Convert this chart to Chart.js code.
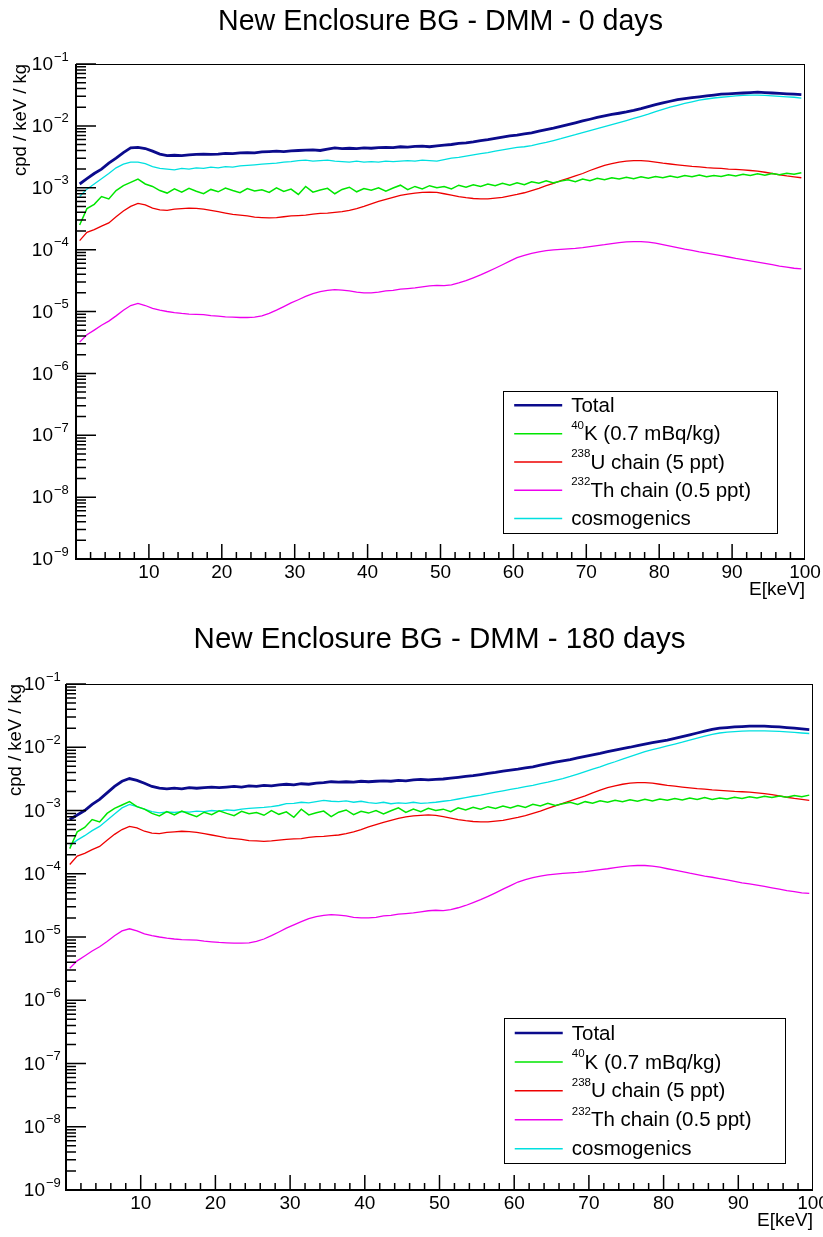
<!DOCTYPE html>
<html>
<head>
<meta charset="utf-8">
<script src="https://cdn.jsdelivr.net/npm/chart.js@4.4.0/dist/chart.umd.min.js"></script>
<style>
body { margin: 0; background: #fff; }
canvas { display: block; }
</style>
</head>
<body>
<canvas id="chart0" width="823" height="618"></canvas>
<canvas id="chart180" width="823" height="619"></canvas>
<script>
// bin centres (keV), 1 keV bins
const energyBins = [
  0.5, 1.5, 2.5, 3.5, 4.5, 5.5, 6.5, 7.5, 8.5, 9.5,
  10.5, 11.5, 12.5, 13.5, 14.5, 15.5, 16.5, 17.5, 18.5, 19.5,
  20.5, 21.5, 22.5, 23.5, 24.5, 25.5, 26.5, 27.5, 28.5, 29.5,
  30.5, 31.5, 32.5, 33.5, 34.5, 35.5, 36.5, 37.5, 38.5, 39.5,
  40.5, 41.5, 42.5, 43.5, 44.5, 45.5, 46.5, 47.5, 48.5, 49.5,
  50.5, 51.5, 52.5, 53.5, 54.5, 55.5, 56.5, 57.5, 58.5, 59.5,
  60.5, 61.5, 62.5, 63.5, 64.5, 65.5, 66.5, 67.5, 68.5, 69.5,
  70.5, 71.5, 72.5, 73.5, 74.5, 75.5, 76.5, 77.5, 78.5, 79.5,
  80.5, 81.5, 82.5, 83.5, 84.5, 85.5, 86.5, 87.5, 88.5, 89.5,
  90.5, 91.5, 92.5, 93.5, 94.5, 95.5, 96.5, 97.5, 98.5, 99.5
];

// cpd / keV / kg
const total0d = [
  1.15e-3, 1.4e-3, 1.7e-3, 2.0e-3, 2.5e-3, 3.0e-3, 3.7e-3, 4.4e-3, 4.5e-3, 4.3e-3,
  3.9e-3, 3.5e-3, 3.3e-3, 3.35e-3, 3.3e-3, 3.4e-3, 3.45e-3, 3.5e-3, 3.45e-3, 3.5e-3,
  3.6e-3, 3.55e-3, 3.65e-3, 3.7e-3, 3.65e-3, 3.8e-3, 3.85e-3, 3.9e-3, 3.85e-3, 3.95e-3,
  4.0e-3, 4.05e-3, 4.1e-3, 4.0e-3, 4.2e-3, 4.4e-3, 4.3e-3, 4.35e-3, 4.3e-3, 4.4e-3,
  4.35e-3, 4.45e-3, 4.5e-3, 4.45e-3, 4.6e-3, 4.55e-3, 4.65e-3, 4.7e-3, 4.6e-3, 4.75e-3,
  4.9e-3, 5.0e-3, 5.2e-3, 5.3e-3, 5.5e-3, 5.8e-3, 6.0e-3, 6.3e-3, 6.6e-3, 6.9e-3,
  7.1e-3, 7.4e-3, 7.7e-3, 8.2e-3, 8.7e-3, 9.2e-3, 9.8e-3, 1.05e-2, 1.12e-2, 1.2e-2,
  1.28e-2, 1.37e-2, 1.45e-2, 1.53e-2, 1.6e-2, 1.68e-2, 1.78e-2, 1.9e-2, 2.05e-2, 2.2e-2,
  2.35e-2, 2.5e-2, 2.65e-2, 2.75e-2, 2.85e-2, 2.95e-2, 3.05e-2, 3.15e-2, 3.25e-2, 3.3e-2,
  3.35e-2, 3.4e-2, 3.45e-2, 3.5e-2, 3.45e-2, 3.4e-2, 3.35e-2, 3.3e-2, 3.25e-2, 3.2e-2
];
const cosmo0d = [
  7.2e-4, 9.5e-4, 1.15e-3, 1.4e-3, 1.7e-3, 2.1e-3, 2.4e-3, 2.6e-3, 2.6e-3, 2.45e-3,
  2.2e-3, 2.05e-3, 2.0e-3, 1.95e-3, 2.05e-3, 2.0e-3, 2.1e-3, 2.05e-3, 2.15e-3, 2.1e-3,
  2.2e-3, 2.15e-3, 2.25e-3, 2.3e-3, 2.35e-3, 2.4e-3, 2.45e-3, 2.5e-3, 2.6e-3, 2.65e-3,
  2.75e-3, 2.8e-3, 2.7e-3, 2.75e-3, 2.8e-3, 2.7e-3, 2.65e-3, 2.6e-3, 2.7e-3, 2.6e-3,
  2.65e-3, 2.6e-3, 2.7e-3, 2.65e-3, 2.7e-3, 2.75e-3, 2.7e-3, 2.8e-3, 2.75e-3, 2.7e-3,
  2.85e-3, 3.0e-3, 3.1e-3, 3.25e-3, 3.4e-3, 3.55e-3, 3.7e-3, 3.9e-3, 4.1e-3, 4.3e-3,
  4.5e-3, 4.6e-3, 4.8e-3, 5.1e-3, 5.4e-3, 5.8e-3, 6.2e-3, 6.7e-3, 7.2e-3, 7.8e-3,
  8.4e-3, 9.0e-3, 9.7e-3, 1.05e-2, 1.13e-2, 1.22e-2, 1.32e-2, 1.43e-2, 1.55e-2, 1.7e-2,
  1.85e-2, 2.0e-2, 2.15e-2, 2.3e-2, 2.45e-2, 2.6e-2, 2.72e-2, 2.82e-2, 2.9e-2, 2.98e-2,
  3.05e-2, 3.1e-2, 3.15e-2, 3.15e-2, 3.1e-2, 3.05e-2, 3.0e-2, 2.95e-2, 2.9e-2, 2.8e-2
];
const total180d = [
  7.2e-4, 8.5e-4, 1.0e-3, 1.25e-3, 1.5e-3, 1.9e-3, 2.4e-3, 2.9e-3, 3.2e-3, 3.0e-3,
  2.7e-3, 2.4e-3, 2.25e-3, 2.2e-3, 2.25e-3, 2.2e-3, 2.3e-3, 2.25e-3, 2.3e-3, 2.35e-3,
  2.3e-3, 2.35e-3, 2.4e-3, 2.35e-3, 2.45e-3, 2.4e-3, 2.5e-3, 2.45e-3, 2.55e-3, 2.6e-3,
  2.55e-3, 2.65e-3, 2.6e-3, 2.7e-3, 2.75e-3, 2.85e-3, 2.8e-3, 2.85e-3, 2.8e-3, 2.9e-3,
  2.85e-3, 2.9e-3, 2.95e-3, 2.9e-3, 3.0e-3, 2.95e-3, 3.05e-3, 3.1e-3, 3.05e-3, 3.1e-3,
  3.15e-3, 3.25e-3, 3.35e-3, 3.45e-3, 3.55e-3, 3.7e-3, 3.85e-3, 4.0e-3, 4.2e-3, 4.35e-3,
  4.5e-3, 4.7e-3, 4.9e-3, 5.2e-3, 5.5e-3, 5.8e-3, 6.1e-3, 6.4e-3, 6.8e-3, 7.2e-3,
  7.6e-3, 8.0e-3, 8.5e-3, 9.0e-3, 9.5e-3, 1.0e-2, 1.06e-2, 1.12e-2, 1.18e-2, 1.24e-2,
  1.3e-2, 1.38e-2, 1.47e-2, 1.57e-2, 1.68e-2, 1.8e-2, 1.92e-2, 2.0e-2, 2.05e-2, 2.1e-2,
  2.12e-2, 2.15e-2, 2.15e-2, 2.15e-2, 2.12e-2, 2.1e-2, 2.05e-2, 2.0e-2, 1.95e-2, 1.9e-2
];
const cosmo180d = [
  2.8e-4, 3.4e-4, 4.0e-4, 4.8e-4, 5.6e-4, 7.0e-4, 8.8e-4, 1.1e-3, 1.25e-3, 1.15e-3,
  1.05e-3, 9.6e-4, 9.2e-4, 9.5e-4, 9.3e-4, 9.6e-4, 9.4e-4, 9.8e-4, 9.6e-4, 1.0e-3,
  9.8e-4, 1.02e-3, 1.0e-3, 1.05e-3, 1.08e-3, 1.1e-3, 1.12e-3, 1.15e-3, 1.2e-3, 1.28e-3,
  1.3e-3, 1.35e-3, 1.32e-3, 1.38e-3, 1.45e-3, 1.4e-3, 1.38e-3, 1.42e-3, 1.35e-3, 1.4e-3,
  1.33e-3, 1.3e-3, 1.35e-3, 1.28e-3, 1.32e-3, 1.3e-3, 1.35e-3, 1.3e-3, 1.32e-3, 1.35e-3,
  1.4e-3, 1.45e-3, 1.52e-3, 1.6e-3, 1.68e-3, 1.75e-3, 1.85e-3, 1.95e-3, 2.05e-3, 2.15e-3,
  2.25e-3, 2.38e-3, 2.5e-3, 2.65e-3, 2.8e-3, 3.0e-3, 3.2e-3, 3.45e-3, 3.75e-3, 4.1e-3,
  4.5e-3, 4.9e-3, 5.4e-3, 5.9e-3, 6.5e-3, 7.1e-3, 7.8e-3, 8.5e-3, 9.2e-3, 9.8e-3,
  1.05e-2, 1.12e-2, 1.2e-2, 1.3e-2, 1.4e-2, 1.5e-2, 1.6e-2, 1.68e-2, 1.73e-2, 1.77e-2,
  1.8e-2, 1.82e-2, 1.82e-2, 1.82e-2, 1.8e-2, 1.78e-2, 1.75e-2, 1.72e-2, 1.68e-2, 1.65e-2
];
// same in both plots
const k40 = [
  2.5e-4, 4.6e-4, 5.4e-4, 7.2e-4, 6.6e-4, 9.0e-4, 1.08e-3, 1.22e-3, 1.38e-3, 1.15e-3,
  1.05e-3, 9.0e-4, 8.2e-4, 9.6e-4, 8.5e-4, 9.8e-4, 8.8e-4, 8.0e-4, 9.4e-4, 8.6e-4,
  9.9e-4, 9.0e-4, 8.3e-4, 9.7e-4, 8.9e-4, 9.3e-4, 8.4e-4, 1.0e-3, 8.7e-4, 9.5e-4,
  7.8e-4, 1.05e-3, 8.5e-4, 9.2e-4, 9.8e-4, 8.0e-4, 9.4e-4, 1.02e-3, 8.6e-4, 9.7e-4,
  9.1e-4, 1.0e-3, 8.8e-4, 9.9e-4, 1.1e-3, 9.3e-4, 1.05e-3, 9.6e-4, 1.08e-3, 1.0e-3,
  1.05e-3, 9.6e-4, 1.1e-3, 1.02e-3, 1.12e-3, 1.05e-3, 1.15e-3, 1.08e-3, 1.18e-3, 1.1e-3,
  1.2e-3, 1.12e-3, 1.25e-3, 1.18e-3, 1.3e-3, 1.2e-3, 1.28e-3, 1.35e-3, 1.25e-3, 1.38e-3,
  1.3e-3, 1.42e-3, 1.35e-3, 1.45e-3, 1.38e-3, 1.48e-3, 1.4e-3, 1.5e-3, 1.42e-3, 1.52e-3,
  1.45e-3, 1.55e-3, 1.47e-3, 1.58e-3, 1.5e-3, 1.6e-3, 1.5e-3, 1.58e-3, 1.52e-3, 1.62e-3,
  1.55e-3, 1.65e-3, 1.58e-3, 1.68e-3, 1.6e-3, 1.7e-3, 1.62e-3, 1.72e-3, 1.65e-3, 1.75e-3
];
const u238 = [
  1.4e-4, 1.9e-4, 2.1e-4, 2.4e-4, 2.7e-4, 3.4e-4, 4.2e-4, 5.0e-4, 5.6e-4, 5.3e-4,
  4.7e-4, 4.4e-4, 4.3e-4, 4.5e-4, 4.6e-4, 4.7e-4, 4.65e-4, 4.5e-4, 4.3e-4, 4.1e-4,
  3.9e-4, 3.7e-4, 3.6e-4, 3.5e-4, 3.35e-4, 3.3e-4, 3.25e-4, 3.3e-4, 3.4e-4, 3.5e-4,
  3.55e-4, 3.6e-4, 3.75e-4, 3.85e-4, 3.9e-4, 4.0e-4, 4.1e-4, 4.3e-4, 4.6e-4, 5.0e-4,
  5.5e-4, 6.0e-4, 6.5e-4, 7.0e-4, 7.5e-4, 7.9e-4, 8.2e-4, 8.4e-4, 8.5e-4, 8.4e-4,
  8.0e-4, 7.6e-4, 7.2e-4, 6.9e-4, 6.7e-4, 6.6e-4, 6.6e-4, 6.8e-4, 7.0e-4, 7.4e-4,
  7.8e-4, 8.3e-4, 9.0e-4, 9.8e-4, 1.08e-3, 1.18e-3, 1.3e-3, 1.42e-3, 1.55e-3, 1.7e-3,
  1.9e-3, 2.1e-3, 2.3e-3, 2.45e-3, 2.6e-3, 2.7e-3, 2.75e-3, 2.75e-3, 2.7e-3, 2.6e-3,
  2.5e-3, 2.42e-3, 2.35e-3, 2.28e-3, 2.22e-3, 2.18e-3, 2.12e-3, 2.08e-3, 2.05e-3, 2.0e-3,
  1.98e-3, 1.95e-3, 1.9e-3, 1.85e-3, 1.78e-3, 1.7e-3, 1.62e-3, 1.55e-3, 1.5e-3, 1.45e-3
];
const th232 = [
  3.2e-6, 4.2e-6, 5.0e-6, 6.0e-6, 7.0e-6, 8.5e-6, 1.05e-5, 1.25e-5, 1.35e-5, 1.25e-5,
  1.12e-5, 1.05e-5, 1.0e-5, 9.6e-6, 9.3e-6, 9.1e-6, 9.0e-6, 8.9e-6, 8.6e-6, 8.4e-6,
  8.2e-6, 8.1e-6, 8.0e-6, 8.0e-6, 8.1e-6, 8.5e-6, 9.3e-6, 1.05e-5, 1.2e-5, 1.38e-5,
  1.55e-5, 1.75e-5, 1.95e-5, 2.1e-5, 2.2e-5, 2.25e-5, 2.22e-5, 2.15e-5, 2.05e-5, 2.0e-5,
  2.0e-5, 2.05e-5, 2.15e-5, 2.2e-5, 2.3e-5, 2.35e-5, 2.4e-5, 2.5e-5, 2.6e-5, 2.65e-5,
  2.62e-5, 2.7e-5, 2.9e-5, 3.15e-5, 3.5e-5, 3.9e-5, 4.4e-5, 5.0e-5, 5.7e-5, 6.5e-5,
  7.4e-5, 8.1e-5, 8.7e-5, 9.2e-5, 9.6e-5, 9.9e-5, 1.01e-4, 1.03e-4, 1.05e-4, 1.08e-4,
  1.12e-4, 1.16e-4, 1.2e-4, 1.25e-4, 1.3e-4, 1.33e-4, 1.35e-4, 1.35e-4, 1.32e-4, 1.27e-4,
  1.2e-4, 1.14e-4, 1.08e-4, 1.02e-4, 9.7e-5, 9.2e-5, 8.8e-5, 8.4e-5, 8.0e-5, 7.6e-5,
  7.2e-5, 6.9e-5, 6.6e-5, 6.3e-5, 6.0e-5, 5.7e-5, 5.4e-5, 5.2e-5, 5.0e-5, 4.9e-5
];

const seriesSup = ['', '40', '238', '232', ''];
const seriesNames = ['Total', 'K (0.7 mBq/kg)', 'U chain (5 ppt)', 'Th chain (0.5 ppt)', 'cosmogenics'];
const seriesColors = ['#0b0b8c', '#00e600', '#ee0000', '#ee00ee', '#00e0e0'];
const seriesWidths = [2.8, 1.5, 1.3, 1.3, 1.3];
const xMajor = [10, 20, 30, 40, 50, 60, 70, 80, 90, 100];
const yDecades = [-9, -8, -7, -6, -5, -4, -3, -2, -1];

const FONT = '"Liberation Sans", Arial, Helvetica, sans-serif';

function pts(vals) {
  return vals.map((v, i) => ({ x: energyBins[i], y: v }));
}

// ROOT-like frame, inward ticks, labels and legend
const rootStyle = {
  id: 'rootStyle',
  afterDatasetsDraw(chart, args, opts) {
    const ctx = chart.ctx;
    const a = chart.chartArea;
    const xs = chart.scales.x, ys = chart.scales.y;
    ctx.save();
    ctx.strokeStyle = '#000';
    ctx.fillStyle = '#000';

    ctx.lineWidth = 1;
    ctx.strokeRect(a.left, a.top + 0.5, a.right - a.left - 0.5, a.bottom - a.top);
    ctx.lineWidth = 2;
    ctx.beginPath();
    ctx.moveTo(a.left, a.top);
    ctx.lineTo(a.left, a.bottom);
    ctx.lineTo(a.right, a.bottom);
    ctx.stroke();

    // x ticks (every 2 keV, major every 10)
    ctx.lineWidth = 1.5;
    ctx.beginPath();
    for (let v = 2; v < 100; v += 2) {
      const px = xs.getPixelForValue(v);
      const len = v % 10 === 0 ? 15 : 7;
      ctx.moveTo(px, a.bottom);
      ctx.lineTo(px, a.bottom - len);
    }
    // y ticks
    yDecades.forEach(e => {
      const py = ys.getPixelForValue(Math.pow(10, e));
      ctx.moveTo(a.left, py);
      ctx.lineTo(a.left + 20, py);
      if (e < -1) {
        for (let k = 2; k <= 9; k++) {
          const pm = ys.getPixelForValue(k * Math.pow(10, e));
          ctx.moveTo(a.left, pm);
          ctx.lineTo(a.left + 10, pm);
        }
      }
    });
    ctx.stroke();

    // x labels
    ctx.font = '19px ' + FONT;
    ctx.textAlign = 'center';
    ctx.textBaseline = 'middle';
    xMajor.forEach(v => ctx.fillText(String(v), xs.getPixelForValue(v), a.bottom + 14));
    ctx.textAlign = 'right';
    ctx.fillText('E[keV]', a.right, a.bottom + 31);

    // y labels 10^n
    yDecades.forEach(e => {
      const py = ys.getPixelForValue(Math.pow(10, e));
      const x0 = a.left - opts.labelGap;
      ctx.font = '19px ' + FONT;
      ctx.textAlign = 'right';
      ctx.fillText('10', x0, py + 1);
      ctx.font = '13px ' + FONT;
      ctx.textAlign = 'left';
      ctx.fillText('\u2212' + (-e), x0 + 1, py - 7);
    });

    // y title
    ctx.save();
    ctx.translate(a.left - opts.titleGap, a.top);
    ctx.rotate(-Math.PI / 2);
    ctx.font = '18.5px ' + FONT;
    ctx.textAlign = 'right';
    ctx.fillText('cpd / keV / kg', 0, 0);
    ctx.restore();

    // title
    ctx.font = opts.titleSize + 'px ' + FONT;
    ctx.textAlign = 'center';
    ctx.fillText(opts.title, (a.left + a.right) / 2, 22);

    // legend box (NDC-like fractions of the frame)
    const w = a.right - a.left, h = a.bottom - a.top;
    const bl = a.left + 0.586 * w, br = a.left + 0.962 * w;
    const bt = a.top + 0.661 * h, bb = a.top + 0.947 * h;
    ctx.fillStyle = '#fff';
    ctx.fillRect(bl, bt, br - bl, bb - bt);
    ctx.lineWidth = 1;
    ctx.strokeStyle = '#000';
    ctx.strokeRect(Math.round(bl) + 0.5, Math.round(bt) + 0.5, Math.round(br - bl), Math.round(bb - bt));
    const rowH = (bb - bt) / seriesNames.length;
    chart.data.datasets.forEach((ds, i) => {
      const cy = bt + rowH * (i + 0.5);
      ctx.strokeStyle = ds.borderColor;
      ctx.lineWidth = i === 0 ? 2.5 : 1.5;
      ctx.beginPath();
      ctx.moveTo(bl + 11, cy);
      ctx.lineTo(bl + 59, cy);
      ctx.stroke();
      ctx.fillStyle = '#000';
      let tx = bl + 68;
      ctx.textAlign = 'left';
      if (seriesSup[i]) {
        ctx.font = '11.5px ' + FONT;
        ctx.fillText(seriesSup[i], tx, cy - 8);
        tx += ctx.measureText(seriesSup[i]).width;
      }
      ctx.font = '20.5px ' + FONT;
      ctx.fillText(seriesNames[i], tx, cy + 1);
    });
    ctx.restore();
  }
};

function makeChart(id, title, total, cosmo, pad, style) {
  const series = [total, k40, u238, th232, cosmo];
  return new Chart(document.getElementById(id), {
    type: 'line',
    data: {
      datasets: series.map((vals, i) => ({
        label: seriesNames[i],
        data: pts(vals),
        borderColor: seriesColors[i],
        borderWidth: seriesWidths[i],
        pointRadius: 0,
        tension: 0,
        fill: false
      }))
    },
    options: {
      responsive: false,
      animation: false,
      events: [],
      layout: { padding: pad },
      scales: {
        x: { type: 'linear', min: 0, max: 100, display: false },
        y: { type: 'logarithmic', min: 1e-9, max: 1e-1, display: false }
      },
      plugins: {
        legend: { display: false },
        tooltip: { enabled: false },
        title: { display: false },
        rootStyle: Object.assign({ title: title }, style)
      }
    },
    plugins: [rootStyle]
  });
}

makeChart('chart0', 'New Enclosure BG - DMM - 0 days', total0d, cosmo0d,
  { left: 76, top: 64, right: 18, bottom: 59 },
  { titleSize: 28.6, labelGap: 23, titleGap: 55 });
makeChart('chart180', 'New Enclosure BG - DMM - 180 days', total180d, cosmo180d,
  { left: 66, top: 66, right: 10, bottom: 47 },
  { titleSize: 29.5, labelGap: 21, titleGap: 50 });
</script>
</body>
</html>
